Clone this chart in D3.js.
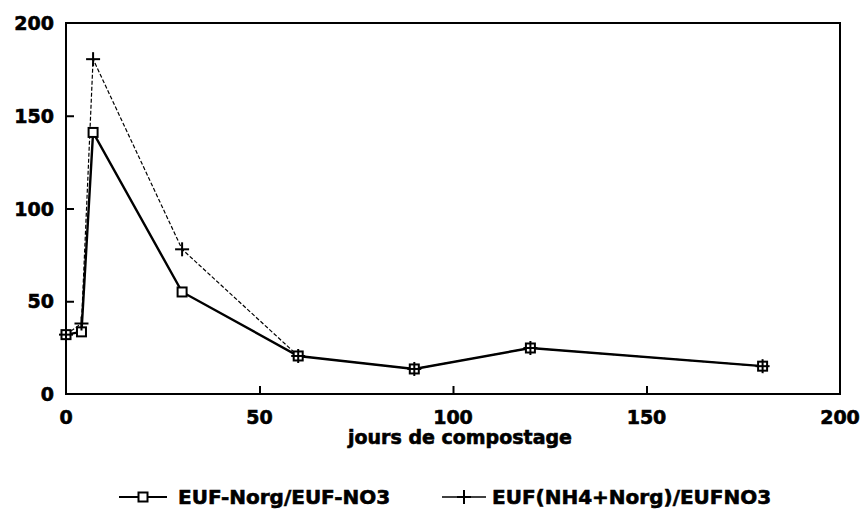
<!DOCTYPE html>
<html>
<head>
<meta charset="utf-8">
<script src="https://cdn.jsdelivr.net/npm/d3@7"></script>
<style>
  body { margin: 0; background: white; }
  text { font-family: "DejaVu Sans", sans-serif; font-weight: bold; fill: black;
         stroke: black; stroke-width: 0.6px; }
</style>
</head>
<body>
<div id="canvas"></div>
<script>
"use strict"

/* data */
let days = [0, 4, 7, 30, 60, 90, 120, 180];
let norgRatio = [32, 33.5, 141, 55, 20.5, 13.5, 24.8, 15];        // EUF-Norg/EUF-NO3
let nh4NorgRatio = [32, 38, 180.5, 78, 20.5, 13.5, 24.8, 15];     // EUF(NH4+Norg)/EUFNO3
let xTicks = [0, 50, 100, 150, 200];
let yTicks = [0, 50, 100, 150, 200];
let seriesNames = ["EUF-Norg/EUF-NO3", "EUF(NH4+Norg)/EUFNO3"];

let drawing = d3.select("#canvas")
    .append("svg")
    .attr("width", 867)
    .attr("height", 515);

let x = d3.scaleLinear().domain([0, 200]).range([66, 840]);
let y = d3.scaleLinear().domain([0, 200]).range([394, 23]);

/* frame */
drawing.append("rect")
    .attr("x", x(0)).attr("y", y(200))
    .attr("width", x(200) - x(0)).attr("height", y(0) - y(200))
    .attr("fill", "none").attr("stroke", "black").attr("stroke-width", 2);

/* inner ticks, no tick at the ends */
let xAxis = drawing.append("g")
    .attr("transform", `translate(0,${y(0)})`)
    .call(d3.axisTop(x).tickValues([50, 100, 150]).tickSize(8).tickFormat(""));
let yAxis = drawing.append("g")
    .attr("transform", `translate(${x(0)},0)`)
    .call(d3.axisRight(y).tickValues([50, 100, 150]).tickSize(8).tickFormat(""));
drawing.selectAll(".domain").remove();
drawing.selectAll(".tick line").attr("stroke", "black").attr("stroke-width", 2);

/* tick labels */
drawing.selectAll(".xlab").data(xTicks).enter().append("text")
    .attr("x", d => x(d)).attr("y", 424)
    .attr("text-anchor", "middle").attr("font-size", 19)
    .text(d => d);
drawing.selectAll(".ylab").data(yTicks).enter().append("text")
    .attr("x", 54).attr("y", d => y(d) + 7)
    .attr("text-anchor", "end").attr("font-size", 19)
    .text(d => d);

/* axis title */
drawing.append("text")
    .attr("x", 460).attr("y", 444)
    .attr("text-anchor", "middle").attr("font-size", 19)
    .text("jours de compostage");

let line = d3.line().x(d => x(d[0])).y(d => y(d[1]));
let pts1 = days.map((d, i) => [d, norgRatio[i]]);
let pts2 = days.map((d, i) => [d, nh4NorgRatio[i]]);

/* dotted series first, solid series on top */
drawing.append("path").datum(pts2).attr("d", line)
    .attr("fill", "none").attr("stroke", "black")
    .attr("stroke-width", 1.2).attr("stroke-dasharray", "4,2");
drawing.append("path").datum(pts1).attr("d", line)
    .attr("fill", "none").attr("stroke", "black").attr("stroke-width", 2.4);

function plus(g, cx, cy) {
  g.append("line").attr("x1", cx - 7).attr("x2", cx + 7).attr("y1", cy).attr("y2", cy)
    .attr("stroke", "black").attr("stroke-width", 2);
  g.append("line").attr("x1", cx).attr("x2", cx).attr("y1", cy - 7).attr("y2", cy + 7)
    .attr("stroke", "black").attr("stroke-width", 2);
}
function square(g, cx, cy) {
  g.append("rect").attr("x", cx - 4.5).attr("y", cy - 4.5)
    .attr("width", 9).attr("height", 9)
    .attr("fill", "white").attr("stroke", "black").attr("stroke-width", 2);
}

let marks = drawing.append("g");
pts1.forEach(p => square(marks, x(p[0]), y(p[1])));
pts2.forEach(p => plus(marks, x(p[0]), y(p[1])));

/* legend */
let leg = drawing.append("g");
leg.append("line").attr("x1", 119).attr("x2", 167).attr("y1", 497).attr("y2", 497)
    .attr("stroke", "black").attr("stroke-width", 2);
square(leg, 143, 497);
leg.append("text").attr("x", 178).attr("y", 504).attr("font-size", 20).text(seriesNames[0]);
leg.append("line").attr("x1", 442).attr("x2", 486).attr("y1", 497).attr("y2", 497)
    .attr("stroke", "black").attr("stroke-width", 1.5);
plus(leg, 464, 497);
leg.append("text").attr("x", 492).attr("y", 504).attr("font-size", 20).text(seriesNames[1]);
</script>
</body>
</html>
